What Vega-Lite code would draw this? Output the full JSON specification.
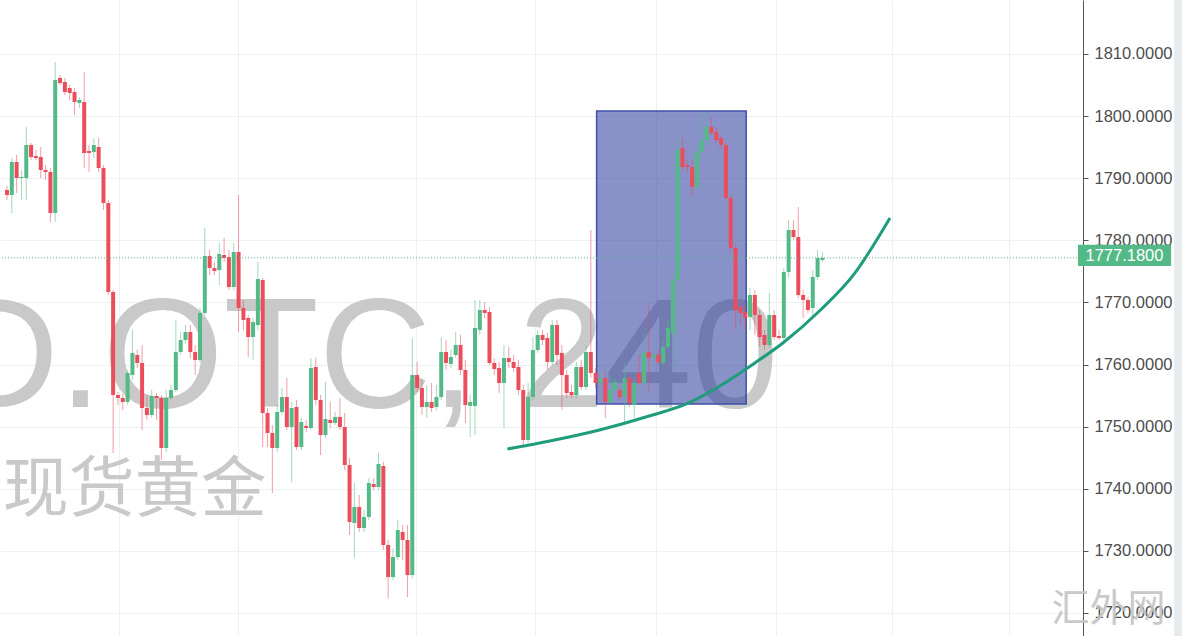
{
"$schema": "https://vega.github.io/schema/vega-lite/v6.json",
"width": 1083, "height": 636,
"autosize": {"type": "none"},
"padding": {"left": 0, "top": 0, "right": 101, "bottom": 0},
"background": "#ffffff",
"config": {"view": {"stroke": null}},
"datasets": {
"candles": [
{"i":0,"o":1788.10,"c":1787.29,"h":1788.74,"l":1786.49},
{"i":1,"o":1787.29,"c":1792.61,"h":1793.25,"l":1784.40},
{"i":2,"o":1792.61,"c":1790.03,"h":1793.73,"l":1787.62},
{"i":3,"o":1790.03,"c":1790.19,"h":1791.32,"l":1786.49},
{"i":4,"o":1790.03,"c":1795.34,"h":1798.24,"l":1786.49},
{"i":5,"o":1795.34,"c":1793.41,"h":1795.67,"l":1792.93},
{"i":6,"o":1793.57,"c":1793.25,"h":1794.54,"l":1792.93},
{"i":7,"o":1793.41,"c":1791.32,"h":1795.02,"l":1790.03},
{"i":8,"o":1791.32,"c":1791.00,"h":1792.12,"l":1789.71},
{"i":9,"o":1791.00,"c":1784.40,"h":1791.64,"l":1782.95},
{"i":10,"o":1784.40,"c":1805.81,"h":1808.71,"l":1782.95},
{"i":11,"o":1806.13,"c":1805.33,"h":1806.61,"l":1805.00},
{"i":12,"o":1805.49,"c":1803.88,"h":1806.13,"l":1803.39},
{"i":13,"o":1804.52,"c":1803.72,"h":1805.00,"l":1802.59},
{"i":14,"o":1803.88,"c":1802.27,"h":1804.52,"l":1800.17},
{"i":15,"o":1802.11,"c":1802.59,"h":1803.07,"l":1801.30},
{"i":16,"o":1802.27,"c":1794.06,"h":1807.10,"l":1791.64},
{"i":17,"o":1794.38,"c":1794.06,"h":1795.34,"l":1791.00},
{"i":18,"o":1794.22,"c":1795.34,"h":1796.47,"l":1793.25},
{"i":19,"o":1795.02,"c":1791.64,"h":1796.47,"l":1791.00},
{"i":20,"o":1791.64,"c":1786.01,"h":1792.12,"l":1784.88},
{"i":21,"o":1786.01,"c":1771.68,"h":1786.49,"l":1771.19},
{"i":22,"o":1771.68,"c":1755.09,"h":1772.00,"l":1745.76},
{"i":23,"o":1755.09,"c":1754.61,"h":1755.58,"l":1753.48},
{"i":24,"o":1754.61,"c":1753.97,"h":1755.26,"l":1752.68},
{"i":25,"o":1753.97,"c":1758.64,"h":1759.12,"l":1753.48},
{"i":26,"o":1758.31,"c":1761.86,"h":1765.56,"l":1757.51},
{"i":27,"o":1761.53,"c":1760.25,"h":1762.34,"l":1759.44},
{"i":28,"o":1760.25,"c":1753.00,"h":1763.14,"l":1749.46},
{"i":29,"o":1753.00,"c":1751.87,"h":1755.09,"l":1751.07},
{"i":30,"o":1751.87,"c":1754.93,"h":1755.90,"l":1751.39},
{"i":31,"o":1754.93,"c":1754.61,"h":1755.42,"l":1751.07},
{"i":32,"o":1754.61,"c":1746.56,"h":1755.09,"l":1744.63},
{"i":33,"o":1746.56,"c":1754.61,"h":1755.90,"l":1745.92},
{"i":34,"o":1754.61,"c":1755.90,"h":1756.70,"l":1754.29},
{"i":35,"o":1755.90,"c":1762.02,"h":1767.17,"l":1755.58},
{"i":36,"o":1762.02,"c":1763.95,"h":1765.24,"l":1761.53},
{"i":37,"o":1763.95,"c":1765.24,"h":1766.36,"l":1763.47},
{"i":38,"o":1765.24,"c":1762.02,"h":1766.36,"l":1761.05},
{"i":39,"o":1762.02,"c":1760.73,"h":1763.14,"l":1758.31},
{"i":40,"o":1760.73,"c":1768.30,"h":1769.10,"l":1760.41},
{"i":41,"o":1768.30,"c":1777.47,"h":1781.98,"l":1767.97},
{"i":42,"o":1777.47,"c":1775.54,"h":1778.44,"l":1774.41},
{"i":43,"o":1775.54,"c":1775.06,"h":1776.51,"l":1774.41},
{"i":44,"o":1775.22,"c":1777.80,"h":1779.57,"l":1772.80},
{"i":45,"o":1777.63,"c":1777.15,"h":1780.37,"l":1776.51},
{"i":46,"o":1777.31,"c":1772.48,"h":1778.44,"l":1772.00},
{"i":47,"o":1772.48,"c":1778.12,"h":1779.57,"l":1772.00},
{"i":48,"o":1778.12,"c":1769.10,"h":1787.29,"l":1765.24},
{"i":49,"o":1769.10,"c":1767.17,"h":1770.39,"l":1765.56},
{"i":50,"o":1767.49,"c":1764.43,"h":1767.97,"l":1761.21},
{"i":51,"o":1764.43,"c":1766.85,"h":1767.49,"l":1760.73},
{"i":52,"o":1766.36,"c":1773.77,"h":1776.51,"l":1765.56},
{"i":53,"o":1773.61,"c":1752.20,"h":1773.93,"l":1746.72},
{"i":54,"o":1752.20,"c":1748.98,"h":1753.00,"l":1746.72},
{"i":55,"o":1748.98,"c":1746.56,"h":1750.26,"l":1739.32},
{"i":56,"o":1746.56,"c":1752.36,"h":1753.48,"l":1745.92},
{"i":57,"o":1752.36,"c":1754.77,"h":1756.22,"l":1751.87},
{"i":58,"o":1754.77,"c":1749.94,"h":1757.83,"l":1749.46},
{"i":59,"o":1749.94,"c":1753.00,"h":1753.97,"l":1741.09},
{"i":60,"o":1753.16,"c":1746.72,"h":1754.29,"l":1746.24},
{"i":61,"o":1746.72,"c":1750.75,"h":1751.39,"l":1746.24},
{"i":62,"o":1750.10,"c":1749.78,"h":1751.07,"l":1749.14},
{"i":63,"o":1749.78,"c":1759.44,"h":1761.05,"l":1749.46},
{"i":64,"o":1759.60,"c":1754.29,"h":1761.05,"l":1753.48},
{"i":65,"o":1754.29,"c":1748.65,"h":1755.09,"l":1745.43},
{"i":66,"o":1748.65,"c":1751.23,"h":1757.19,"l":1748.17},
{"i":67,"o":1751.07,"c":1750.59,"h":1753.97,"l":1749.78},
{"i":68,"o":1750.59,"c":1751.55,"h":1752.36,"l":1750.26},
{"i":69,"o":1751.55,"c":1749.94,"h":1754.61,"l":1749.46},
{"i":70,"o":1749.94,"c":1743.82,"h":1752.20,"l":1743.02},
{"i":71,"o":1743.82,"c":1734.65,"h":1744.95,"l":1732.55},
{"i":72,"o":1734.49,"c":1737.06,"h":1740.93,"l":1728.85},
{"i":73,"o":1737.06,"c":1733.68,"h":1738.99,"l":1733.04},
{"i":74,"o":1733.68,"c":1735.45,"h":1736.58,"l":1733.04},
{"i":75,"o":1735.45,"c":1740.93,"h":1741.73,"l":1734.97},
{"i":76,"o":1740.77,"c":1740.28,"h":1741.73,"l":1739.80},
{"i":77,"o":1740.28,"c":1743.99,"h":1745.76,"l":1739.80},
{"i":78,"o":1743.66,"c":1730.94,"h":1744.31,"l":1730.14},
{"i":79,"o":1730.94,"c":1725.79,"h":1731.75,"l":1722.41},
{"i":80,"o":1725.79,"c":1729.01,"h":1730.46,"l":1725.31},
{"i":81,"o":1729.01,"c":1733.36,"h":1734.97,"l":1728.53},
{"i":82,"o":1733.04,"c":1731.75,"h":1734.16,"l":1728.53},
{"i":83,"o":1731.75,"c":1726.11,"h":1734.16,"l":1722.57},
{"i":84,"o":1726.11,"c":1758.31,"h":1764.27,"l":1725.63},
{"i":85,"o":1758.31,"c":1756.22,"h":1760.41,"l":1755.58},
{"i":86,"o":1756.22,"c":1753.16,"h":1757.51,"l":1751.87},
{"i":87,"o":1753.16,"c":1753.97,"h":1756.70,"l":1751.39},
{"i":88,"o":1753.97,"c":1753.00,"h":1757.03,"l":1752.36},
{"i":89,"o":1753.16,"c":1754.77,"h":1756.70,"l":1752.68},
{"i":90,"o":1754.77,"c":1762.02,"h":1764.43,"l":1754.29},
{"i":91,"o":1762.02,"c":1760.25,"h":1763.95,"l":1759.12},
{"i":92,"o":1760.09,"c":1761.21,"h":1762.34,"l":1759.44},
{"i":93,"o":1761.53,"c":1763.14,"h":1765.24,"l":1761.05},
{"i":94,"o":1763.14,"c":1759.12,"h":1764.75,"l":1758.31},
{"i":95,"o":1759.12,"c":1753.48,"h":1760.73,"l":1750.59},
{"i":96,"o":1753.32,"c":1753.97,"h":1755.09,"l":1748.33},
{"i":97,"o":1753.32,"c":1765.88,"h":1770.39,"l":1748.65},
{"i":98,"o":1765.56,"c":1768.78,"h":1770.39,"l":1764.75},
{"i":99,"o":1768.78,"c":1768.30,"h":1770.07,"l":1767.49},
{"i":100,"o":1768.46,"c":1760.25,"h":1769.26,"l":1759.92},
{"i":101,"o":1760.25,"c":1759.28,"h":1761.05,"l":1758.31},
{"i":102,"o":1759.44,"c":1757.03,"h":1760.41,"l":1755.42},
{"i":103,"o":1757.03,"c":1761.05,"h":1763.14,"l":1749.78},
{"i":104,"o":1761.05,"c":1760.41,"h":1762.82,"l":1759.44},
{"i":105,"o":1760.41,"c":1759.44,"h":1761.53,"l":1758.80},
{"i":106,"o":1759.60,"c":1755.90,"h":1760.73,"l":1755.09},
{"i":107,"o":1755.90,"c":1747.85,"h":1756.70,"l":1746.72},
{"i":108,"o":1747.85,"c":1754.77,"h":1757.03,"l":1747.04},
{"i":109,"o":1754.77,"c":1762.34,"h":1764.43,"l":1754.29},
{"i":110,"o":1762.34,"c":1764.75,"h":1765.56,"l":1761.86},
{"i":111,"o":1764.75,"c":1763.95,"h":1765.56,"l":1763.14},
{"i":112,"o":1764.27,"c":1760.41,"h":1765.08,"l":1759.12},
{"i":113,"o":1760.41,"c":1766.36,"h":1767.17,"l":1759.92},
{"i":114,"o":1766.36,"c":1761.53,"h":1767.17,"l":1759.92},
{"i":115,"o":1761.86,"c":1758.31,"h":1763.14,"l":1752.68},
{"i":116,"o":1758.31,"c":1755.42,"h":1759.12,"l":1754.61},
{"i":117,"o":1755.58,"c":1755.09,"h":1756.70,"l":1754.61},
{"i":118,"o":1755.09,"c":1759.60,"h":1760.41,"l":1754.61},
{"i":119,"o":1759.60,"c":1756.38,"h":1760.73,"l":1755.90},
{"i":120,"o":1756.38,"c":1762.02,"h":1763.14,"l":1755.90},
{"i":121,"o":1762.02,"c":1758.64,"h":1781.66,"l":1757.83},
{"i":122,"o":1758.64,"c":1757.03,"h":1759.44,"l":1756.22},
{"i":123,"o":1757.03,"c":1757.83,"h":1758.80,"l":1756.22},
{"i":124,"o":1757.83,"c":1753.97,"h":1758.80,"l":1751.39},
{"i":125,"o":1753.97,"c":1755.90,"h":1758.31,"l":1753.48},
{"i":126,"o":1755.90,"c":1757.19,"h":1757.83,"l":1755.42},
{"i":127,"o":1755.90,"c":1754.77,"h":1756.70,"l":1754.29},
{"i":128,"o":1754.77,"c":1757.83,"h":1760.25,"l":1750.75},
{"i":129,"o":1757.83,"c":1753.81,"h":1758.31,"l":1753.16},
{"i":130,"o":1753.48,"c":1757.03,"h":1757.83,"l":1751.39},
{"i":131,"o":1758.64,"c":1757.03,"h":1761.53,"l":1756.70},
{"i":132,"o":1757.03,"c":1761.86,"h":1765.08,"l":1756.70},
{"i":133,"o":1762.02,"c":1761.05,"h":1769.58,"l":1755.42},
{"i":134,"o":1761.05,"c":1761.53,"h":1762.34,"l":1760.41},
{"i":135,"o":1761.53,"c":1760.41,"h":1762.34,"l":1759.92},
{"i":136,"o":1760.25,"c":1762.82,"h":1763.95,"l":1759.76},
{"i":137,"o":1762.82,"c":1765.88,"h":1767.17,"l":1762.34},
{"i":138,"o":1765.08,"c":1773.61,"h":1774.41,"l":1764.75},
{"i":139,"o":1773.61,"c":1794.54,"h":1796.47,"l":1758.31},
{"i":140,"o":1794.86,"c":1791.80,"h":1796.47,"l":1791.32},
{"i":141,"o":1792.12,"c":1791.80,"h":1792.93,"l":1791.00},
{"i":142,"o":1791.80,"c":1788.58,"h":1792.93,"l":1786.97},
{"i":143,"o":1788.58,"c":1794.22,"h":1795.34,"l":1788.10},
{"i":144,"o":1794.22,"c":1796.15,"h":1800.50,"l":1793.73},
{"i":145,"o":1796.15,"c":1798.24,"h":1800.66,"l":1795.67},
{"i":146,"o":1798.24,"c":1797.28,"h":1799.69,"l":1796.79},
{"i":147,"o":1797.44,"c":1796.15,"h":1798.08,"l":1795.67},
{"i":148,"o":1796.47,"c":1795.34,"h":1796.95,"l":1794.54},
{"i":149,"o":1795.34,"c":1786.81,"h":1795.83,"l":1786.49},
{"i":150,"o":1786.81,"c":1778.76,"h":1787.29,"l":1778.12},
{"i":151,"o":1778.76,"c":1768.78,"h":1779.24,"l":1765.56},
{"i":152,"o":1769.26,"c":1768.30,"h":1770.39,"l":1766.36},
{"i":153,"o":1768.46,"c":1767.49,"h":1769.58,"l":1765.56},
{"i":154,"o":1767.65,"c":1771.19,"h":1772.32,"l":1765.56},
{"i":155,"o":1771.19,"c":1767.97,"h":1772.00,"l":1764.75},
{"i":156,"o":1767.97,"c":1764.43,"h":1768.78,"l":1762.82},
{"i":157,"o":1764.75,"c":1763.14,"h":1765.56,"l":1762.34},
{"i":158,"o":1763.14,"c":1767.97,"h":1771.52,"l":1762.66},
{"i":159,"o":1767.97,"c":1764.43,"h":1768.78,"l":1763.95},
{"i":160,"o":1764.59,"c":1764.27,"h":1765.56,"l":1763.95},
{"i":161,"o":1764.27,"c":1774.90,"h":1775.54,"l":1763.95},
{"i":162,"o":1774.90,"c":1781.66,"h":1783.27,"l":1773.93},
{"i":163,"o":1781.66,"c":1780.53,"h":1783.27,"l":1780.05},
{"i":164,"o":1780.53,"c":1771.19,"h":1785.36,"l":1770.71},
{"i":165,"o":1771.19,"c":1770.39,"h":1772.00,"l":1767.49},
{"i":166,"o":1770.39,"c":1768.78,"h":1770.87,"l":1768.30},
{"i":167,"o":1769.10,"c":1774.09,"h":1775.22,"l":1767.49},
{"i":168,"o":1774.09,"c":1777.15,"h":1778.44,"l":1773.61},
{"i":169,"o":1776.83,"c":1777.18,"h":1778.12,"l":1776.51}
],
"curve": [
{"i":103.7,"p":1746.40},{"i":112.5,"p":1747.69},{"i":122.8,"p":1749.46},{"i":133.1,"p":1751.71},
{"i":141.3,"p":1753.81},{"i":147.4,"p":1756.38},{"i":155.0,"p":1760.25},{"i":160.8,"p":1763.47},
{"i":168.6,"p":1768.78},{"i":175.6,"p":1774.60},{"i":183.0,"p":1783.59}
]
},
"layer": [
{
"data": {"name": "candles"},
"mark": {"type": "rule", "opacity": 0},
"encoding": {
"x": {"field": "i", "type": "quantitative", "scale": {"domain": [-0.41, 221.97], "nice": false, "zero": false},
"axis": {"values": [23.2, 47.8, 84.8, 109.4, 134.5, 159.3, 183.4, 207.6], "grid": true, "gridColor": "#eef1f4", "labels": false, "ticks": false, "domain": false, "title": null}},
"y": {"field": "h", "type": "quantitative", "scale": {"domain": [1716.29, 1818.69], "nice": false, "zero": false},
"axis": {"orient": "right", "values": [1720,1730,1740,1750,1760,1770,1780,1790,1800,1810], "format": ".4f", "title": null,
"grid": true, "gridColor": "#eef1f4", "labelFont": "Liberation Sans", "labelFontSize": 16.5, "labelColor": "#4d4d4d",
"tickSize": 5, "tickColor": "#555555", "domainColor": "#555555", "labelPadding": 6, "labelBaseline": "middle"}}
}
},
{
"data": {"values": [{}]},
"mark": {"type": "text", "text": "D.OTC, 240", "align": "left", "baseline": "alphabetic", "fontSize": 156, "font": "Liberation Sans", "fill": "#c9c9c9"},
"encoding": {"x": {"datum": -12.6, "type": "quantitative"}, "y": {"datum": 1753.17, "type": "quantitative"}}
},
{
"data": {"values": [{}]},
"mark": {"type": "text", "text": "现货黄金", "align": "left", "baseline": "middle", "fontSize": 66, "font": "Noto Sans CJK SC", "fill": "#c9c9c9"},
"encoding": {"x": {"datum": -0.9, "type": "quantitative"}, "y": {"datum": 1739.6, "type": "quantitative"}}
},
{
"data": {"values": [{}]},
"mark": {"type": "rect", "fill": "#2e3f9e", "fillOpacity": 0.57, "stroke": "#3f51a8", "strokeWidth": 1.5},
"encoding": {"x": {"datum": 122.2, "type": "quantitative"}, "x2": {"datum": 153.2}, "y": {"datum": 1800.82, "type": "quantitative"}, "y2": {"datum": 1753.65}}
},
{
"data": {"name": "candles"},
"mark": {"type": "rule", "strokeWidth": 1, "opacity": 0.55},
"encoding": {
"x": {"field": "i", "type": "quantitative"},
"y": {"field": "l", "type": "quantitative"},
"y2": {"field": "h"},
"color": {"condition": {"test": "datum.c >= datum.o", "value": "#53b987"}, "value": "#eb4d5c"}
}
},
{
"data": {"name": "candles"},
"mark": {"type": "bar", "width": 4},
"encoding": {
"x": {"field": "i", "type": "quantitative"},
"y": {"field": "o", "type": "quantitative"},
"y2": {"field": "c"},
"color": {"condition": {"test": "datum.c >= datum.o", "value": "#53b987"}, "value": "#eb4d5c"}
}
},
{
"data": {"name": "curve"},
"mark": {"type": "line", "interpolate": "monotone", "stroke": "#1f9c7b", "strokeWidth": 3},
"encoding": {"x": {"field": "i", "type": "quantitative"}, "y": {"field": "p", "type": "quantitative"}}
},
{
"data": {"values": [{}]},
"mark": {"type": "rule", "stroke": "#53b987", "strokeWidth": 1, "strokeDash": [1, 2]},
"encoding": {"y": {"datum": 1777.18, "type": "quantitative"}}
},
{
"data": {"values": [{}]},
"mark": {"type": "rect", "fill": "#53b987"},
"encoding": {"x": {"datum": 221.97, "type": "quantitative"}, "x2": {"datum": 241.27}, "y": {"datum": 1779.3, "type": "quantitative"}, "y2": {"datum": 1775.85}}
},
{
"data": {"values": [{}]},
"mark": {"type": "text", "text": "1777.1800", "align": "center", "baseline": "middle", "fontSize": 16.5, "font": "Liberation Sans", "fill": "#ffffff"},
"encoding": {"x": {"datum": 231.6, "type": "quantitative"}, "y": {"datum": 1777.5, "type": "quantitative"}}
},
{
"data": {"values": [{}]},
"mark": {"type": "rect", "fill": "#e8ebee"},
"encoding": {"x": {"datum": 241.9, "type": "quantitative"}, "x2": {"datum": 243.5}, "y": {"datum": 1716.29, "type": "quantitative"}, "y2": {"datum": 1818.69}}
},
{
"data": {"values": [{}]},
"mark": {"type": "text", "text": "汇外网", "align": "center", "baseline": "middle", "fontSize": 38, "font": "Noto Sans CJK SC", "fill": "#c4c4c4", "opacity": 0.9},
"encoding": {"x": {"datum": 228.3, "type": "quantitative"}, "y": {"datum": 1720.48, "type": "quantitative"}}
}
]
}
